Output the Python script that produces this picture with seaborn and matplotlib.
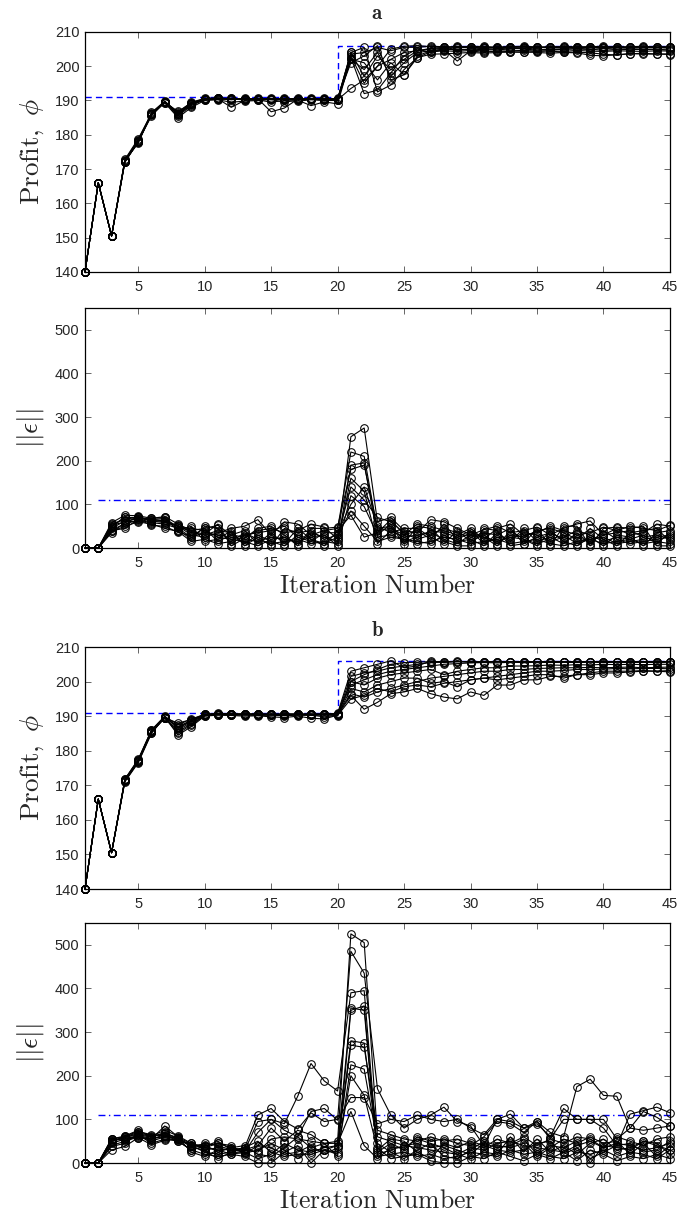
import numpy as np
import pandas as pd
import matplotlib
matplotlib.use('Agg')
import matplotlib.pyplot as plt
import seaborn as sns

# iteration axis
iters = list(range(1, 46))

# profit runs, case a
profit_a = [
    [140, 166, 150.5, 172.5, 178.5, 186, 189.5, 186, 189, 190.5,
     190.8, 190.5, 190.5, 190.6, 190.4, 190.5, 190.4, 190.5, 190.4, 190.5,
     203.5, 204, 205.5, 204.5, 205.5, 205.5, 205.8, 205.7, 205.6, 205.7,
     205.5, 205.6, 205.7, 205.6, 205.5, 205.7, 205.6, 205.5, 205.6, 205.5,
     205.7, 205.6, 205.5, 205.6, 205.7],
    [140, 166, 150.5, 172, 178, 185.5, 189.5, 185.5, 188.5, 190.3,
     190.5, 188, 190, 190.2, 189.5, 190, 189.8, 190.2, 190, 190,
     202, 199, 204, 197, 201, 204, 204.5, 205, 204.8, 205,
     205.2, 204.8, 205, 205.3, 205, 204.8, 205.1, 205, 204.9, 205.2,
     205, 204.8, 205, 204.9, 205],
    [140, 166, 150.5, 172.5, 177.5, 186.5, 189.8, 186.5, 189.5, 190.6,
     190.7, 190.4, 190.2, 190.5, 186.7, 187.8, 190.4, 190.5, 190.3, 190.2,
     193.5, 196, 200, 202, 204, 204.5, 205, 205.2, 204.6, 205,
     204.8, 205.1, 205.3, 205, 204.7, 205, 204.8, 205.2, 205, 204.6,
     204.9, 205.1, 204.8, 205, 204.6],
    [140, 166, 150.5, 172, 178, 186, 189.3, 185, 188, 190,
     190.2, 189.5, 189.8, 190, 190.3, 189.5, 190.1, 188.5, 189.6, 189,
     202.5, 192, 193, 198, 203, 205, 204, 204.8, 201.5, 204.5,
     204, 204.5, 204.2, 204, 204.3, 204.5, 204, 203.9, 203.2, 203,
     203.4, 203.6, 203.8, 203.5, 203.6],
    [140, 166, 150.5, 172.8, 178.8, 186.2, 189.7, 186.2, 189.2, 190.4,
     190.6, 190.3, 190.4, 190.3, 190.5, 190.2, 190.3, 190.4, 190.1, 190.3,
     204, 205.5, 192.5, 194.5, 199, 202.5, 203.5, 203.6, 203.8, 204,
     203.8, 204, 204.1, 204.2, 204, 203.8, 204, 204.1, 203.9, 203.5,
     203.2, 203.7, 203.5, 203.6, 203.4],
    [140, 166, 150.5, 172.3, 178.2, 185.8, 189.6, 185.8, 188.8, 190.2,
     190.4, 190.6, 190.5, 190.4, 190.6, 190.4, 190.6, 190.3, 190.5, 190.6,
     201, 203, 206, 196, 197.5, 203, 204.5, 204.8, 205.5, 205.7,
     205.8, 205.4, 205.7, 205.8, 205.6, 205.5, 205.8, 205.6, 205.7, 205.8,
     205.5, 205.7, 205.8, 205.6, 205.5],
    [140, 166, 150.5, 172.6, 178.3, 186.3, 189.4, 186.8, 189.3, 190.5,
     190.3, 190.7, 190.3, 190.5, 190.2, 190.5, 190.2, 190.6, 190.5, 190.4,
     203, 195, 200, 205, 205.8, 206, 205.7, 205.5, 205.8, 205.4,
     205.6, 205.3, 205.5, 205.7, 205.4, 205.6, 205.3, 205.6, 205.4, 205.6,
     205.4, 205.5, 205.6, 205.4, 205.6],
    [140, 166, 150.5, 172.4, 177.8, 186, 189.5, 186, 189, 190.3,
     190.6, 190.2, 190.6, 190.3, 190.4, 190.6, 190.5, 190.3, 190.6, 190.2,
     204, 197, 203, 199, 202, 204.5, 205.2, 205.5, 205.3, 205.6,
     205.2, 205.5, 205.4, 205.3, 205.6, 205.3, 205.5, 205.3, 205.6, 205.3,
     205.5, 205.3, 205.4, 205.5, 205.3],
    [140, 166, 150.5, 172.2, 178.1, 186.1, 189.6, 186.3, 189.1, 190.4,
     190.5, 190.4, 190.4, 190.5, 190.3, 190.3, 190.5, 190.4, 190.4, 190.4,
     202, 201, 196, 201, 197.5, 202.5, 204.2, 204.5, 204.3, 204.6,
     204.5, 204.3, 204.5, 204.6, 204.4, 204.5, 204.3, 204.6, 204.4, 204.3,
     204.5, 204.4, 204.3, 204.5, 204.4],
]

# error norm runs, case a
error_a = [
    [0, 0, 58, 75, 74, 68, 72, 55, 40, 45, 52, 30, 25, 40, 45, 35, 40, 55, 48, 20,
     255, 275, 60, 70, 40, 35, 65, 60, 45, 30, 42, 50, 35, 40, 48, 30, 45, 55, 62, 30,
     45, 30, 35, 55, 50],
    [0, 0, 45, 62, 68, 64, 60, 50, 30, 25, 35, 45, 50, 65, 30, 60, 55, 30, 40, 45,
     220, 210, 40, 45, 30, 55, 50, 40, 30, 45, 20, 45, 55, 30, 35, 50, 40, 30, 35, 48,
     40, 50, 45, 40, 52],
    [0, 0, 38, 50, 60, 55, 45, 38, 15, 20, 10, 15, 35, 20, 10, 15, 20, 10, 15, 10,
     190, 195, 25, 30, 20, 10, 15, 25, 20, 10, 15, 20, 10, 15, 20, 10, 5, 15, 20, 10,
     15, 20, 10, 15, 10],
    [0, 0, 50, 70, 70, 65, 68, 48, 45, 40, 25, 20, 15, 5, 20, 25, 10, 35, 25, 15,
     160, 130, 10, 40, 25, 30, 35, 20, 10, 30, 25, 15, 25, 20, 10, 20, 30, 10, 20, 25,
     10, 15, 20, 25, 30],
    [0, 0, 55, 65, 72, 62, 58, 52, 35, 30, 40, 35, 10, 30, 15, 5, 30, 20, 10, 25,
     140, 110, 70, 60, 35, 20, 30, 45, 35, 25, 35, 30, 45, 10, 25, 35, 20, 25, 15, 30,
     35, 40, 25, 30, 20],
    [0, 0, 42, 55, 64, 58, 55, 45, 25, 35, 30, 25, 20, 15, 25, 20, 15, 25, 30, 5,
     120, 95, 30, 55, 15, 25, 40, 35, 25, 40, 10, 25, 20, 35, 30, 15, 25, 40, 30, 15,
     25, 20, 30, 10, 35],
    [0, 0, 48, 72, 66, 60, 65, 42, 20, 50, 45, 10, 30, 35, 40, 50, 25, 15, 35, 35,
     100, 140, 50, 35, 45, 45, 25, 10, 40, 15, 30, 10, 30, 25, 40, 45, 35, 20, 45, 20,
     5, 35, 40, 45, 15],
    [0, 0, 52, 60, 62, 68, 70, 40, 50, 15, 20, 40, 5, 25, 5, 45, 35, 40, 20, 30,
     85, 50, 15, 25, 20, 15, 10, 30, 15, 20, 5, 35, 15, 45, 15, 25, 10, 35, 10, 40,
     20, 10, 15, 20, 25],
    [0, 0, 40, 45, 66, 52, 50, 36, 28, 45, 15, 30, 40, 10, 35, 10, 45, 20, 5, 40,
     75, 25, 35, 65, 30, 40, 20, 55, 20, 35, 25, 5, 40, 20, 5, 40, 15, 5, 25, 5,
     30, 25, 5, 35, 40],
    [0, 0, 35, 58, 70, 66, 62, 50, 38, 32, 55, 5, 22, 45, 50, 30, 5, 45, 45, 48,
     180, 190, 45, 50, 10, 50, 45, 15, 5, 5, 45, 40, 5, 10, 45, 5, 50, 50, 5, 45,
     48, 45, 50, 5, 5],
]

# profit runs, case b
profit_b = [
    [140, 166, 150.5, 171.5, 177, 185.5, 189.5, 188, 189, 190.5,
     190.8, 190.7, 190.6, 190.5, 190.6, 190.6, 190.5, 190.6, 190.6, 190.5,
     200, 202, 203.5, 205, 205.5, 205.6, 205.8, 205.8, 205.7, 205.8,
     205.7, 205.8, 205.8, 205.7, 205.8, 205.8, 205.7, 205.8, 205.8, 205.7,
     205.8, 205.8, 205.7, 205.8, 205.8],
    [140, 166, 150.5, 171, 176.5, 185, 189.8, 184.5, 187, 190,
     190.3, 190.2, 190, 190.1, 189.8, 189.6, 190, 189.4, 189.2, 190.3,
     196, 192, 194, 196.5, 197, 198, 196.5, 195.5, 195, 197,
     196, 199, 199, 200.5, 200.5, 201.5, 201.5, 202, 202, 202.5,
     202.5, 202.8, 203, 203, 202.8],
    [140, 166, 150.5, 171.8, 177.5, 186, 190, 186.5, 188.5, 190.6,
     190.6, 190.5, 190.7, 190.6, 190.5, 190.7, 190.6, 190.5, 190.7, 190.8,
     203, 204, 205, 206, 204, 204.5, 206, 205.5, 206, 205.5,
     205.6, 205.7, 205.8, 205.6, 205.7, 205.8, 205.7, 205.6, 205.8, 205.7,
     205.8, 205.6, 205.7, 205.8, 205.7],
    [140, 166, 150.5, 171.2, 176.8, 185.2, 189.6, 185.5, 187.8, 190.2,
     190.4, 190.3, 190.4, 190.2, 190.3, 190.1, 190.4, 190.2, 190.5, 190.1,
     198, 197, 199, 200, 201, 201, 199.5, 200, 198.5, 200.5,
     201, 201.5, 202, 202.5, 203, 203, 203.2, 203.5, 203.5, 203.6,
     203.8, 203.7, 203.8, 203.8, 203.7],
    [140, 166, 150.5, 171.6, 177.2, 185.8, 189.7, 187, 188.8, 190.4,
     190.6, 190.6, 190.5, 190.4, 190.5, 190.3, 190.5, 190.4, 190.3, 190.4,
     200, 199, 201, 202, 202.5, 203, 203.5, 202, 203, 203.5,
     204, 204, 204.5, 204.5, 204.6, 204.8, 204.7, 204.9, 204.8, 205,
     204.9, 205, 204.9, 205, 205],
    [140, 166, 150.5, 171.4, 177.1, 185.6, 189.4, 186, 188.2, 190.3,
     190.5, 190.4, 190.6, 190.5, 190.4, 190.5, 190.3, 190.6, 190.4, 190.6,
     196.5, 195.5, 197, 198, 199, 200, 201, 201.5, 202, 202.5,
     203, 203, 203.5, 203.5, 203.8, 203.9, 204, 204, 204.1, 204,
     204.1, 204.2, 204, 204.1, 204.2],
    [140, 166, 150.5, 171.7, 177.3, 185.9, 189.9, 187.5, 189.2, 190.5,
     190.7, 190.6, 190.5, 190.7, 190.6, 190.4, 190.7, 190.6, 190.5, 190.6,
     201.5, 202.5, 203, 204, 204.5, 205, 205.5, 205.6, 205.8, 205.7,
     205.8, 205.7, 205.8, 205.8, 205.7, 205.8, 205.8, 205.7, 205.8, 205.8,
     205.7, 205.8, 205.8, 205.7, 205.8],
    [140, 166, 150.5, 171.3, 176.7, 185.4, 189.5, 185, 187.5, 190.1,
     190.4, 190.5, 190.3, 190.4, 190.4, 190.2, 190.3, 190.3, 189.8, 190.2,
     195, 196, 198, 197, 198.5, 199, 198.5, 199.5, 200, 200.5,
     201, 200.5, 201, 201.5, 202, 202, 201, 202, 202.5, 203,
     203, 203, 203.2, 203, 203.2],
    [140, 166, 150.5, 171.5, 177, 185.7, 189.6, 186.8, 188.6, 190.4,
     190.5, 190.6, 190.4, 190.6, 190.3, 190.6, 190.4, 190.5, 190.4, 190.5,
     199, 200.5, 202, 203, 203.5, 204, 204.5, 205, 205.2, 205.4,
     205.5, 205.4, 205.6, 205.5, 205.6, 205.5, 205.6, 205.5, 205.6, 205.5,
     205.6, 205.5, 205.6, 205.5, 205.6],
]

# error norm runs, case b
error_b = [
    [0, 0, 55, 62, 72, 65, 62, 58, 45, 30, 35, 28, 30, 40, 80, 50, 75, 65, 45, 50,
     525, 505, 60, 50, 40, 35, 30, 25, 20, 35, 30, 45, 50, 40, 35, 30, 25, 40, 50, 35,
     45, 40, 30, 35, 45],
    [0, 0, 50, 58, 68, 60, 70, 55, 40, 25, 20, 25, 35, 110, 125, 95, 78, 115, 95, 100,
     485, 435, 170, 110, 80, 100, 110, 128, 95, 85, 40, 100, 112, 80, 90, 60, 125, 100, 100, 80,
     40, 112, 120, 128, 115],
    [0, 0, 45, 55, 60, 55, 85, 60, 35, 45, 40, 30, 25, 70, 100, 90, 153, 228, 188, 165,
     390, 395, 25, 45, 30, 60, 50, 55, 45, 40, 60, 95, 90, 70, 95, 70, 60, 175, 192, 155,
     153, 80, 118, 105, 85],
    [0, 0, 40, 50, 65, 45, 55, 50, 30, 20, 15, 20, 25, 10, 20, 45, 30, 25, 35, 40,
     355, 350, 15, 20, 25, 15, 20, 10, 15, 25, 20, 15, 30, 20, 25, 15, 10, 25, 20, 30,
     15, 25, 20, 10, 30],
    [0, 0, 55, 60, 70, 62, 75, 62, 45, 35, 45, 35, 30, 25, 55, 60, 55, 50, 45, 15,
     350, 360, 20, 30, 40, 45, 35, 40, 30, 20, 45, 35, 40, 55, 20, 40, 35, 50, 0, 40,
     35, 30, 50, 45, 20],
    [0, 0, 52, 56, 62, 50, 60, 58, 25, 15, 30, 20, 15, 0, 0, 25, 40, 0, 30, 40,
     280, 275, 35, 10, 15, 20, 5, 0, 0, 15, 10, 25, 15, 5, 20, 10, 25, 5, 30, 20,
     5, 15, 10, 20, 10],
    [0, 0, 30, 38, 58, 42, 52, 55, 42, 40, 45, 40, 20, 40, 35, 20, 25, 40, 20, 35,
     270, 265, 75, 65, 55, 50, 60, 50, 55, 45, 35, 55, 45, 60, 40, 55, 45, 60, 55, 35,
     60, 50, 40, 55, 60],
    [0, 0, 48, 62, 75, 60, 68, 58, 38, 28, 10, 25, 22, 30, 45, 30, 10, 30, 30, 20,
     225, 215, 45, 25, 10, 30, 45, 35, 20, 10, 25, 20, 60, 25, 55, 25, 40, 20, 45, 55,
     30, 35, 50, 40, 30],
    [0, 0, 55, 52, 58, 55, 65, 50, 30, 38, 50, 30, 35, 50, 25, 15, 20, 20, 30, 25,
     200, 155, 30, 55, 50, 25, 10, 45, 35, 50, 40, 30, 25, 30, 45, 50, 20, 35, 10, 25,
     40, 45, 25, 30, 50],
    [0, 0, 38, 45, 66, 58, 58, 52, 40, 42, 25, 35, 40, 20, 15, 35, 60, 35, 45, 45,
     118, 40, 10, 35, 35, 55, 45, 15, 10, 30, 50, 40, 35, 45, 15, 35, 55, 45, 60, 45,
     50, 20, 45, 15, 40],
    [0, 0, 50, 60, 64, 55, 62, 54, 42, 35, 30, 32, 28, 95, 100, 75, 60, 118, 125, 98,
     150, 150, 90, 100, 95, 110, 100, 95, 100, 80, 65, 100, 95, 80, 95, 55, 100, 100, 100, 100,
     55, 80, 75, 80, 85],
]

# reference levels
target_x = [1, 20, 20, 45]
target_y = [191, 191, 206, 206]
thresh_x = [2, 45]
thresh_y = [111, 111]

sns.set_style('ticks')
plt.rcParams['font.family'] = ['Liberation Sans', 'DejaVu Sans']
plt.rcParams['mathtext.fontset'] = 'cm'
plt.rcParams['axes.linewidth'] = 0.9

fig = plt.figure(figsize=(6.81, 12.13), dpi=100)
ax_pa = fig.add_axes([0.1248, 0.7758, 0.859, 0.1979])
ax_ea = fig.add_axes([0.1248, 0.5482, 0.859, 0.1979])
ax_pb = fig.add_axes([0.1248, 0.2671, 0.859, 0.1995])
ax_eb = fig.add_axes([0.1248, 0.0412, 0.859, 0.1979])


def draw_runs(ax, runs):
    df = pd.DataFrame({
        'iter': iters * len(runs),
        'val': sum(runs, []),
        'run': np.repeat(np.arange(len(runs)), len(iters)),
    })
    sns.lineplot(data=df, x='iter', y='val', units='run', estimator=None,
                 color='k', lw=0.8, marker='o', ms=5.5, mfc='none', mec='k',
                 mew=0.75, clip_on=False, legend=False, ax=ax)


def style_axes(ax, ylim, yticks):
    ax.set_xlim(1, 45)
    ax.set_ylim(*ylim)
    ax.set_xticks(range(5, 46, 5))
    ax.set_yticks(yticks)
    ax.tick_params(direction='in', top=True, right=True, length=4,
                   width=0.6, labelsize=10.5, color='0.3', pad=4)
    ax.tick_params(axis='x', pad=5.5)
    for s in ax.spines.values():
        s.set_color('k')
    ax.set_xlabel('')


for ax, runs in [(ax_pa, profit_a), (ax_pb, profit_b)]:
    ax.plot(target_x, target_y, color='#0000ff', lw=1.0, dashes=(4.5, 3), zorder=1)
    draw_runs(ax, runs)
    style_axes(ax, (140, 210), range(140, 211, 10))
    ax.set_ylabel(r'$\mathrm{Profit,}\ \phi$', fontsize=19.5, labelpad=6)

for ax, runs in [(ax_ea, error_a), (ax_eb, error_b)]:
    ax.plot(thresh_x, thresh_y, color='#0000ff', lw=1.0, dashes=(5, 2.5, 1, 2.5), zorder=1)
    draw_runs(ax, runs)
    style_axes(ax, (0, 550), range(0, 501, 100))
    ax.set_ylabel(r'$||\epsilon||$', fontsize=19.5, labelpad=6)
    ax.set_xlabel(r'$\mathrm{Iteration\ Number}$', fontsize=18.5, labelpad=3)

ax_pa.set_title(r'$\mathbf{a}$', fontsize=15, pad=9)
ax_pb.set_title(r'$\mathbf{b}$', fontsize=15, pad=8)

fig.savefig('out.png', dpi=100)
plt.close(fig)
